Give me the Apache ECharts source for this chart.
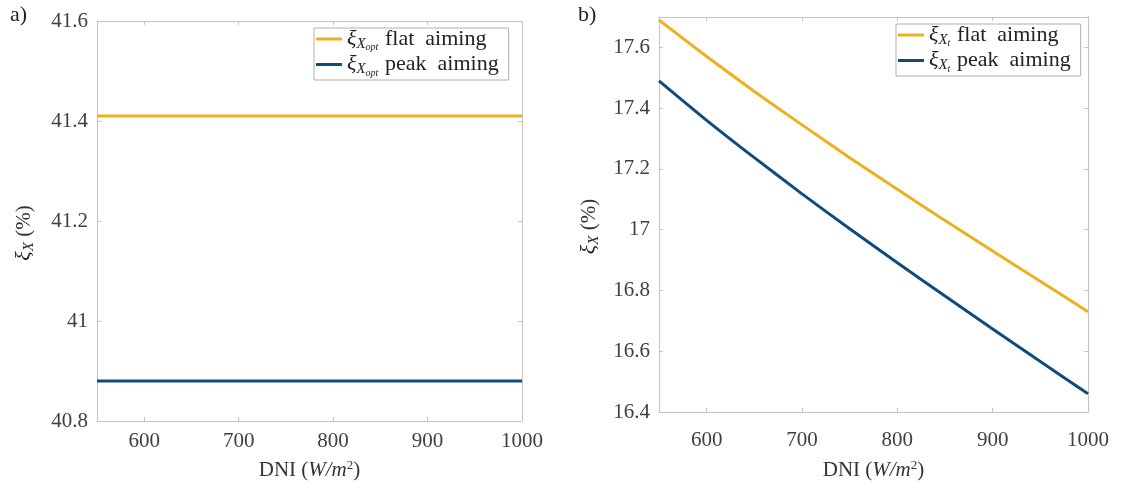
<!DOCTYPE html>
<html>
<head>
  <meta charset="utf-8">
  <title>xi X vs DNI</title>
  <style>
    html, body { margin: 0; padding: 0; background: #fff; }
    #chart { width: 1123px; height: 491px; }
  </style>
</head>
<body>
  <div id="chart"></div>
</body>
<script src="https://cdn.jsdelivr.net/npm/echarts@6/dist/echarts.min.js"></script>
<script>
  // DNI values (W/m2)
  let dni = [550, 600, 650, 700, 750, 800, 850, 900, 950, 1000]
  // a) optimal exergy efficiency, constant
  let opt_flat = [41.41, 41.41, 41.41, 41.41, 41.41, 41.41, 41.41, 41.41, 41.41, 41.41]
  let opt_peak = [40.88, 40.88, 40.88, 40.88, 40.88, 40.88, 40.88, 40.88, 40.88, 40.88]
  // b) total exergy efficiency
  let t_flat = [17.69, 17.57, 17.455, 17.345, 17.237, 17.133, 17.03, 16.93, 16.83, 16.73]
  let t_peak = [17.49, 17.36, 17.237, 17.118, 17.003, 16.891, 16.782, 16.673, 16.566, 16.46]

  let font = 'Liberation Serif'
  let txt = '#404040'
  let axisCol = '#c4c4c4'
  let orange = '#EDB120'
  let blue = '#0f4c7c'

  let rich = {
    g: { fontFamily: font, fontSize: 22, fontStyle: 'italic', color: '#222' },
    s: { fontFamily: font, fontSize: 15, fontStyle: 'italic', color: '#222', padding: [10, 0, 0, 0] },
    ss: { fontFamily: font, fontSize: 10, fontStyle: 'italic', color: '#222', padding: [17, 0, 0, 0] },
    t: { fontFamily: font, fontSize: 22, color: '#222' },
  }

  let pair = (xs, ys) => xs.map((x, i) => [x, ys[i]])

  function xAx(gi, margin, gap) {
    return {
      type: 'value', gridIndex: gi, min: 550, max: 1000,
      name: 'DNI ({i|W/m}{sup|2})', nameLocation: 'middle', nameGap: gap,
      nameTextStyle: {
        fontFamily: font, fontSize: 21, color: '#333',
        rich: {
          i: { fontFamily: font, fontSize: 21, fontStyle: 'italic', color: '#333' },
          sup: { fontFamily: font, fontSize: 13, color: '#333', padding: [0, 0, 10, 0] },
        },
      },
      axisLine: { show: true, onZero: false, lineStyle: { color: axisCol, width: 1 } },
      axisTick: { show: true, inside: true, length: 4, lineStyle: { color: axisCol } },
      axisLabel: {
        showMinLabel: false, fontFamily: font, fontSize: 21, color: txt, margin,
        formatter: (v) => String(v),
      },
      splitLine: { show: false },
    }
  }
  function xTop(gi) {
    return {
      type: 'value', gridIndex: gi, min: 550, max: 1000, position: 'top',
      axisLine: { show: true, onZero: false, lineStyle: { color: axisCol } },
      axisTick: { show: true, inside: true, length: 4, lineStyle: { color: axisCol } },
      axisLabel: { show: false }, splitLine: { show: false },
    }
  }
  function yAx(gi, min, max, gap, topLabel) {
    return {
      type: 'value', gridIndex: gi, min, max, interval: 0.2,
      name: '{g|ξ}{s|X} (%)', nameLocation: 'middle', nameGap: gap, nameRotate: 90,
      nameTextStyle: { fontFamily: font, fontSize: 21, color: '#333', rich, padding: [0, 24, 0, 0] },
      axisLine: { show: true, onZero: false, lineStyle: { color: axisCol } },
      axisTick: { show: true, inside: true, length: 4, lineStyle: { color: axisCol } },
      axisLabel: {
        fontFamily: font, fontSize: 21, color: txt, margin: 9,
        formatter: (v) => {
          let r = Math.round(v * 10) / 10
          if (Math.abs(r - v) > 1e-6 || r > topLabel + 1e-6) return ''
          return String(r)
        },
      },
      splitLine: { show: false },
    }
  }
  function yRight(gi, min, max) {
    return {
      type: 'value', gridIndex: gi, min, max, interval: 0.2, position: 'right',
      axisLine: { show: true, onZero: false, lineStyle: { color: axisCol } },
      axisTick: { show: true, inside: true, length: 4, lineStyle: { color: axisCol } },
      axisLabel: { show: false }, splitLine: { show: false },
    }
  }

  function line(name, xi, yi, data, color) {
    return {
      name, type: 'line', xAxisIndex: xi, yAxisIndex: yi,
      data, showSymbol: false, symbol: 'none', smooth: 0.2,
      lineStyle: { color, width: 3 }, itemStyle: { color },
    }
  }

  function legend(names, left, top) {
    return {
      data: names, left, top, orient: 'vertical',
      icon: 'rect', itemWidth: 26, itemHeight: 3, itemGap: 1,
      borderColor: '#b0b0b0', borderWidth: 1, padding: [0, 10, 2, 2],
      textStyle: { rich },
      formatter: (n) => n,
    }
  }

  let a_flat = '{g|ξ}{s|X}{ss|opt}  {t|flat  aiming}'
  let a_peak = '{g|ξ}{s|X}{ss|opt}  {t|peak  aiming}'
  let b_flat = '{g|ξ}{s|X}{ss|t}  {t|flat  aiming}'
  let b_peak = '{g|ξ}{s|X}{ss|t}  {t|peak  aiming}'

  let chart = echarts.init(document.getElementById('chart'), null, { renderer: 'canvas' })
  let option = {
    animation: false,
    grid: [
      { left: 97, right: 601, top: 21, bottom: 70 },
      { left: 659, right: 35, top: 17, bottom: 79 },
    ],
    xAxis: [xAx(0, 10, 38), xAx(1, 18, 47), xTop(0), xTop(1)],
    yAxis: [yAx(0, 40.8, 41.6, 60, 41.6), yAx(1, 16.4, 17.7, 57, 17.6), yRight(0, 40.8, 41.6), yRight(1, 16.4, 17.7)],
    legend: [
      legend([a_flat, a_peak], 314, 28),
      legend([b_flat, b_peak], 896, 24),
    ],
    graphic: [
      { type: 'text', left: 10, top: 4, style: { text: 'a)', fontFamily: font, fontSize: 22, fill: '#222' } },
      { type: 'text', left: 578, top: 4, style: { text: 'b)', fontFamily: font, fontSize: 22, fill: '#222' } },
    ],
    series: [
      line(a_flat, 0, 0, pair(dni, opt_flat), orange),
      line(a_peak, 0, 0, pair(dni, opt_peak), blue),
      line(b_flat, 1, 1, pair(dni, t_flat), orange),
      line(b_peak, 1, 1, pair(dni, t_peak), blue),
    ],
  }
  chart.setOption(option)
</script>
</html>
